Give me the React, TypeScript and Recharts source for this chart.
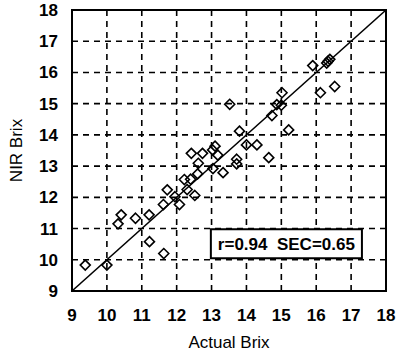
import { ScatterChart, Scatter, XAxis, YAxis, CartesianGrid, ReferenceLine, ReferenceArea } from "recharts"

const actualBrix = [
  9.38, 10.0, 10.32, 10.41, 10.82, 11.21, 11.22, 11.63, 11.62, 11.73, 11.95, 12.08, 12.22, 12.3,
  12.42, 12.4, 12.52, 12.6, 12.62, 12.74, 13.04, 13.03, 13.1, 13.18, 13.33, 13.52, 13.72, 13.72,
  13.8, 14.0, 14.3, 14.64, 14.73, 14.87, 15.02, 15.0, 15.21, 15.9, 16.12, 16.3, 16.34, 16.39, 16.53,
]
const nirBrix = [
  9.83, 9.83, 11.15, 11.44, 11.33, 11.44, 10.58, 10.2, 11.77, 12.24, 12.02, 11.77, 12.57, 12.25,
  13.41, 12.58, 12.06, 12.75, 13.09, 13.41, 12.92, 13.52, 13.64, 13.35, 12.79, 14.98, 13.07, 13.22,
  14.12, 13.68, 13.68, 13.27, 14.62, 14.97, 15.35, 14.95, 14.16, 16.22, 15.35, 16.3, 16.36, 16.42, 15.55,
]
const brixTicks = [9, 10, 11, 12, 13, 14, 15, 16, 17, 18]
const statsText = "r=0.94  SEC=0.65"
const statsBox = { x1: 12.98, x2: 17.31, y1: 10.05, y2: 10.98 }

const data = actualBrix.map((x, i) => ({ x, y: nirBrix[i] }))

const tickFont = { fontFamily: "'Liberation Sans Narrow', 'Liberation Sans', Arial, sans-serif", fontSize: 17, fontWeight: 700, fill: "#000" }

const Diamond = (props: any) => {
  const { cx, cy } = props
  if (cx == null || cy == null) return null
  const r = 5
  return (
    <path
      d={`M${cx},${cy - r}L${cx + r},${cy}L${cx},${cy + r}L${cx - r},${cy}Z`}
      fill="none"
      stroke="#000"
      strokeWidth={1.6}
    />
  )
}

export default function App() {
  return (
    <div style={{ position: "absolute", left: 0, top: 0, background: "#fff" }}>
      <ScatterChart width={396} height={355} margin={{ top: 10, right: 10, bottom: 0, left: 0 }}>
        <CartesianGrid stroke="#000" strokeWidth={1.6} strokeDasharray="6 5" />
        <XAxis
          type="number"
          dataKey="x"
          domain={[9, 18]}
          ticks={brixTicks}
          interval={0}
          height={64}
          tickLine={false}
          axisLine={false}
          tickSize={0}
          tickMargin={18}
          tick={tickFont}
          label={{
            content: ({ viewBox }: any) => (
              <text
                x={viewBox.x + viewBox.width / 2}
                y={viewBox.y + 57}
                textAnchor="middle"
                fontFamily="'Liberation Sans', Arial, sans-serif"
                fontSize={17}
                fill="#000"
              >
                Actual Brix
              </text>
            ),
          }}
        />
        <YAxis
          type="number"
          dataKey="y"
          domain={[9, 18]}
          ticks={brixTicks}
          interval={0}
          width={72}
          tickLine={false}
          axisLine={false}
          tickSize={0}
          tickMargin={14}
          tick={tickFont}
          label={{
            content: ({ viewBox }: any) => {
              const cx = viewBox.x + 16
              const cy = viewBox.y + viewBox.height / 2
              return (
                <text
                  x={cx}
                  y={cy}
                  dy="0.35em"
                  transform={`rotate(-90, ${cx}, ${cy})`}
                  textAnchor="middle"
                  fontFamily="'Liberation Sans', Arial, sans-serif"
                  fontSize={17}
                  fill="#000"
                >
                  NIR Brix
                </text>
              )
            },
          }}
        />
        <ReferenceArea
          {...statsBox}
          fill="#fff"
          fillOpacity={1}
          stroke="#000"
          strokeWidth={2}
          label={{
            content: ({ viewBox }: any) => (
              <text
                x={viewBox.x + viewBox.width / 2}
                y={viewBox.y + viewBox.height / 2}
                dy="0.36em"
                textAnchor="middle"
                style={{ whiteSpace: "pre" }}
                fontFamily="'Liberation Sans', Arial, sans-serif"
                fontSize={17}
                fontWeight={700}
                fill="#000"
              >
                {statsText}
              </text>
            ),
          }}
        />
        <ReferenceArea x1={9} x2={18} y1={9} y2={18} fill="none" stroke="#000" strokeWidth={2} />
        <ReferenceLine
          segment={[{ x: 9, y: 9 }, { x: 18, y: 18 }]}
          stroke="#000"
          strokeWidth={1.6}
        />
        <Scatter data={data} shape={Diamond} isAnimationActive={false} />
      </ScatterChart>
    </div>
  )
}
